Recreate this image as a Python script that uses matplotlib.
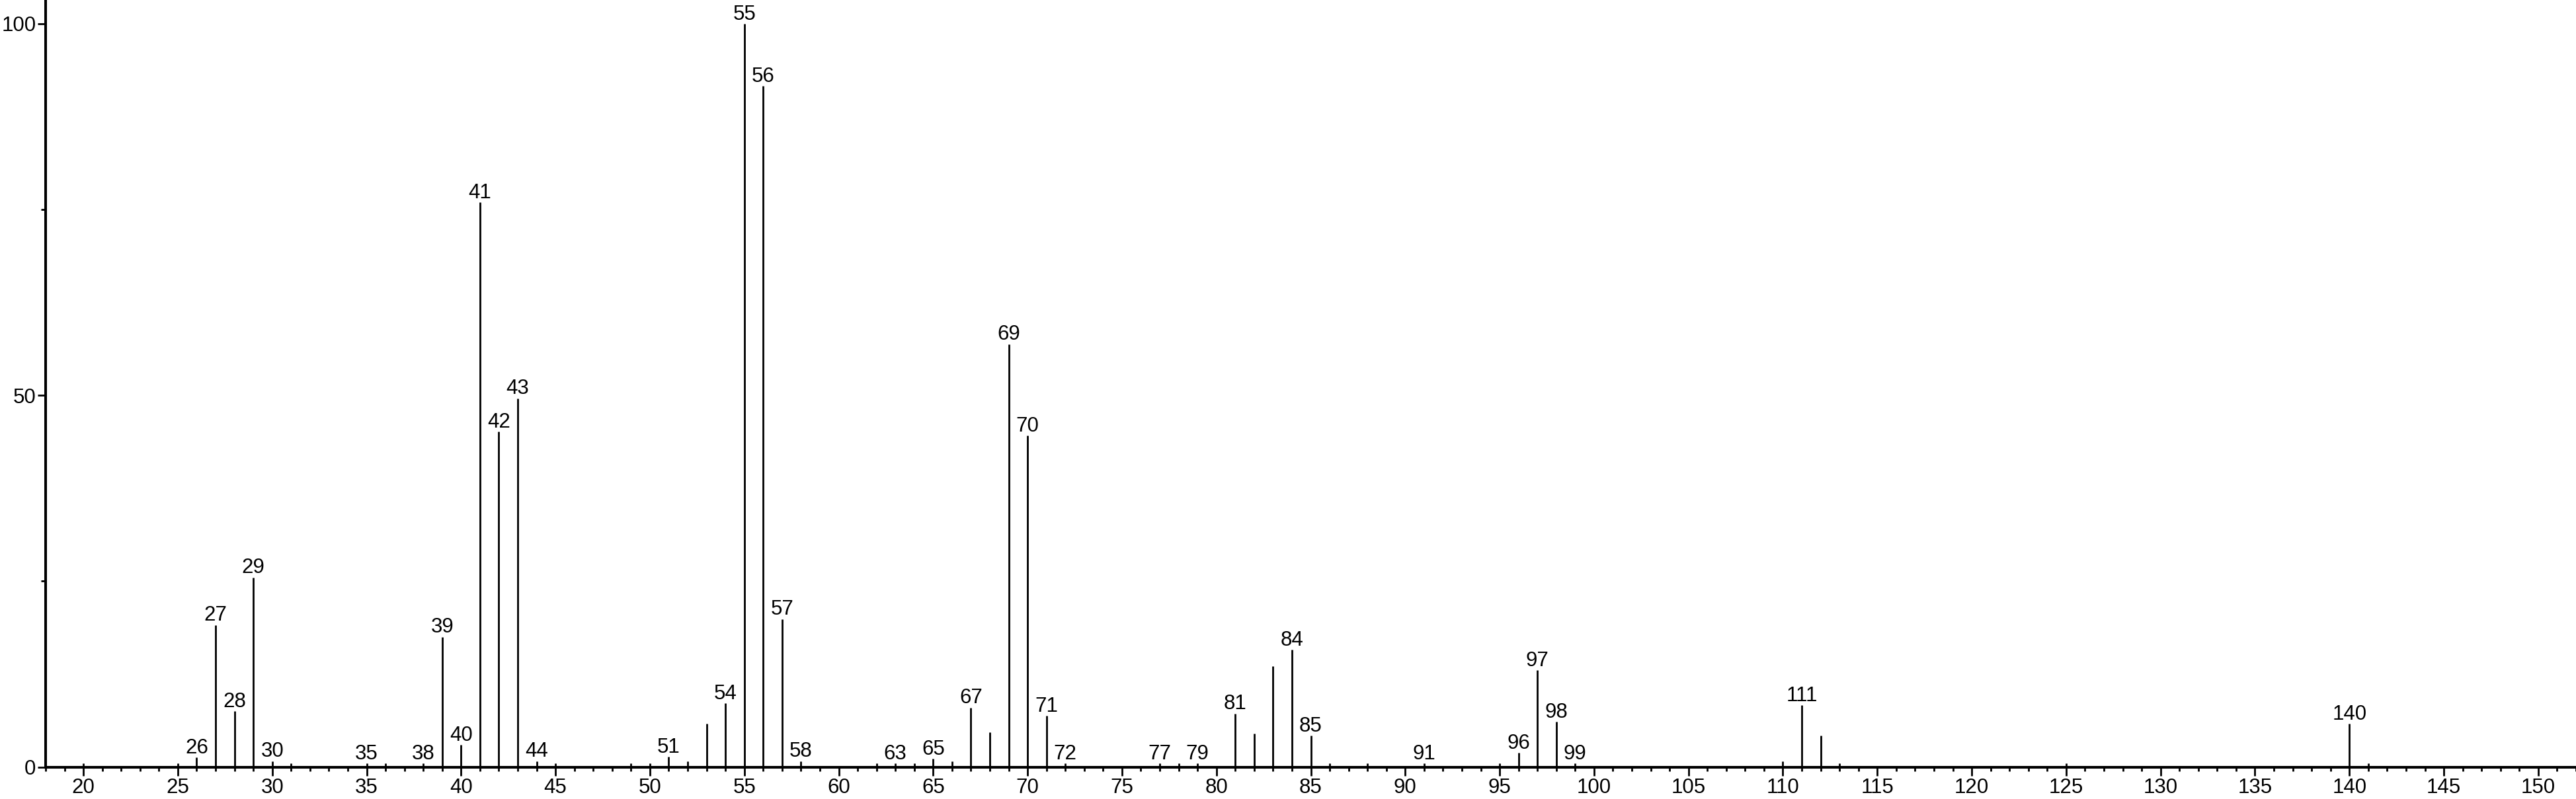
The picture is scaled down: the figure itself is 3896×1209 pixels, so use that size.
import matplotlib
matplotlib.use("Agg")
import matplotlib.pyplot as plt
from matplotlib.ticker import MultipleLocator, FixedLocator

plt.rcParams['font.family'] = ['Liberation Sans', 'DejaVu Sans']

# m/z values and relative intensities
mz = [20, 25, 26, 27, 28, 29, 30, 31, 35, 36, 38, 39, 40, 41, 42, 43, 44, 45,
      49, 50, 51, 52, 53, 54, 55, 56, 57, 58, 62, 63, 64, 65, 66, 67, 68, 69,
      70, 71, 72, 77, 78, 79, 81, 82, 83, 84, 85, 86, 88, 91, 95, 96, 97, 98,
      99, 110, 111, 112, 113, 125, 140, 141]
intensity = [0.5, 0.5, 1.3, 19.1, 7.5, 25.5, 0.8, 0.5, 0.5, 0.5, 0.5, 17.5, 3.0, 76.0, 45.1, 49.6, 0.8, 0.5,
             0.5, 0.5, 1.4, 0.8, 5.8, 8.6, 100.0, 91.6, 19.9, 0.8, 0.5, 0.5, 0.5, 1.1, 0.8, 8.0, 4.7, 56.9,
             44.6, 6.9, 0.5, 0.5, 0.5, 0.5, 7.2, 4.5, 13.6, 15.8, 4.2, 0.5, 0.5, 0.5, 0.5, 1.9, 13.0, 6.1,
             0.5, 0.8, 8.3, 4.2, 0.5, 0.5, 5.8, 0.5]

# peaks that carry a m/z label
labelled = [26, 27, 28, 29, 30, 35, 38, 39, 40, 41, 42, 43, 44, 51, 54, 55, 56, 57,
            58, 63, 65, 67, 69, 70, 71, 72, 77, 79, 81, 84, 85, 91, 96, 97, 98, 99,
            111, 140]

W, H = 3896, 1209
fig = plt.figure(figsize=(W / 100, H / 100), dpi=100)
left, bottom = 69 / W, 48.5 / H
ax = fig.add_axes([left, bottom, 1 - left, 1 - bottom])

ax.vlines(mz, 0, intensity, colors='black', linewidth=2.0)

for m, v in zip(mz, intensity):
    if m in labelled:
        ax.annotate(str(m), (m, v), xytext=(0, 4.5), textcoords='offset points',
                    ha='center', va='baseline', fontsize=22.5, annotation_clip=False)

ax.set_xlim(18, 152)
ax.set_ylim(0, 103.2)

for s in ['top', 'right']:
    ax.spines[s].set_visible(False)
for s in ['left', 'bottom']:
    ax.spines[s].set_linewidth(2.9)

ax.xaxis.set_major_locator(MultipleLocator(5))
ax.xaxis.set_minor_locator(MultipleLocator(1))
ax.yaxis.set_major_locator(FixedLocator([0, 50, 100]))
ax.yaxis.set_minor_locator(FixedLocator([25, 75]))

ax.tick_params(axis='x', which='major', length=9, width=2.0, labelsize=22.5, pad=3)
ax.tick_params(axis='x', which='minor', length=4.3, width=2.0)
ax.tick_params(axis='y', which='major', length=8.6, width=2.0, labelsize=22.5, pad=2)
ax.tick_params(axis='y', which='minor', length=5, width=2.0)

fig.savefig('out.png', dpi=100)
